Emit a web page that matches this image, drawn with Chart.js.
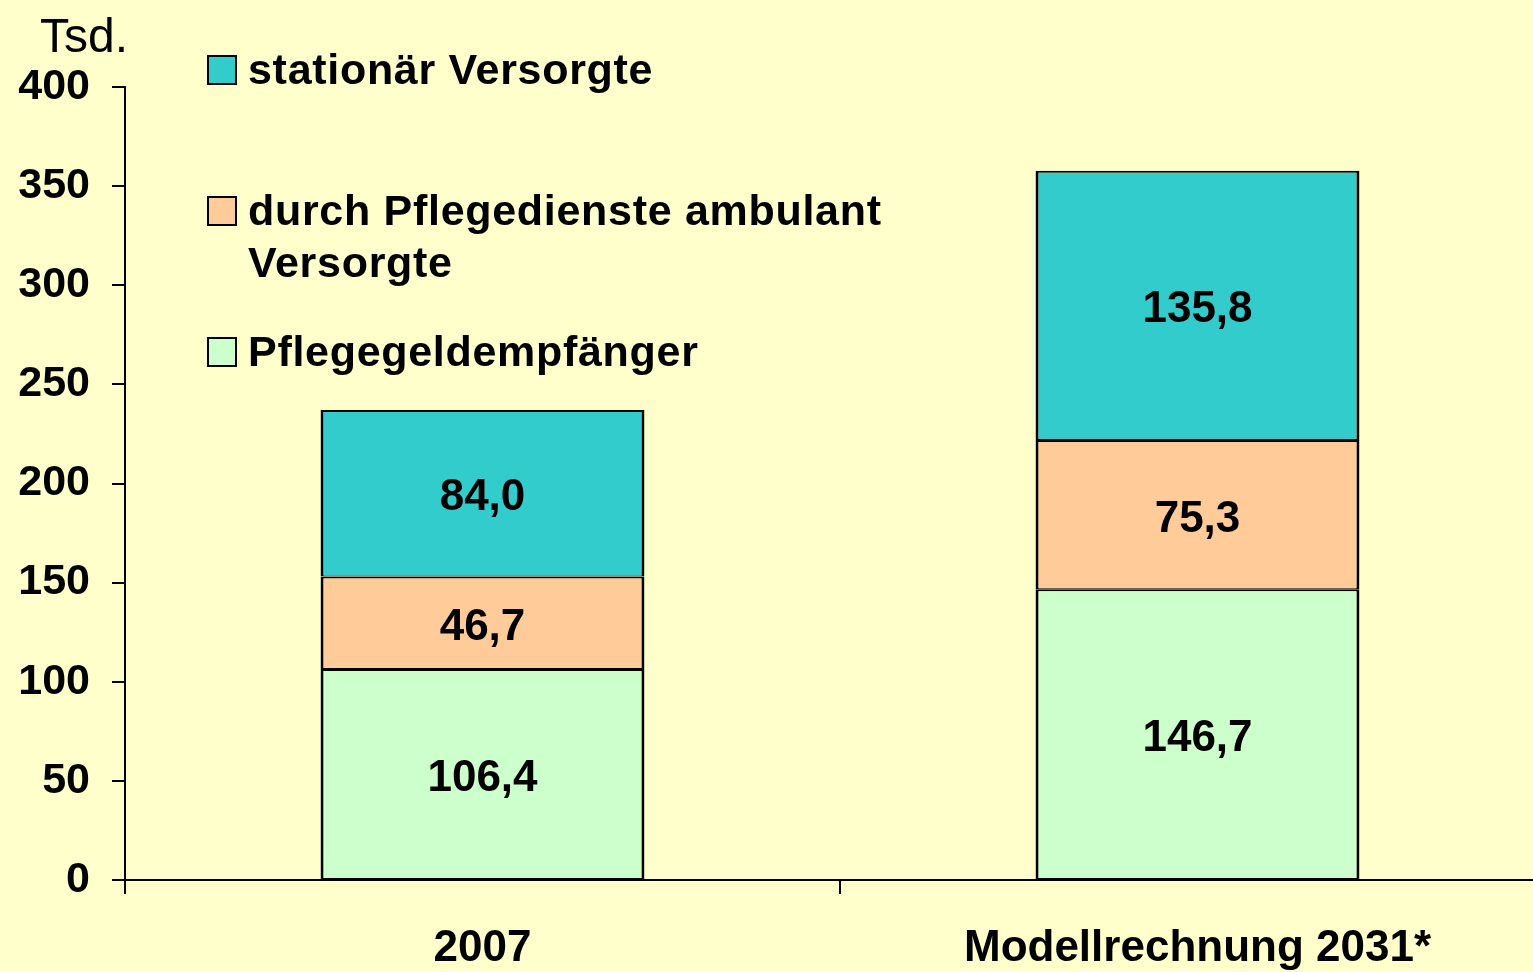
<!DOCTYPE html>
<html>
<head>
<meta charset="utf-8">
<script src="https://cdn.jsdelivr.net/npm/chart.js@4.4.0/dist/chart.umd.min.js"></script>
<style>
	html, body { margin: 0; padding: 0; overflow: hidden; background: #FFFFCC; }
	#wrap { width: 1560px; height: 972px; }
</style>
</head>
<body>
<div id="wrap"><canvas id="chart"></canvas></div>
<script>
// categories and series (Tsd.)
var categories = ['2007', 'Modellrechnung 2031*'];
var pflegegeld = [106.4, 146.7];
var ambulant = [46.7, 75.3];
var stationaer = [84.0, 135.8];

var seriesLabels = ['Pflegegeldempfänger', 'durch Pflegedienste ambulant Versorgte', 'stationär Versorgte'];
var seriesColors = ['#CCFFCC', '#FFCC99', '#33CCCC'];
var legendLines = [['Pflegegeldempfänger'], ['durch Pflegedienste ambulant', 'Versorgte'], ['stationär Versorgte']];

var yTicks = [0, 50, 100, 150, 200, 250, 300, 350, 400];

var FONT = "'Liberation Sans', Arial, sans-serif";
Chart.defaults.font.family = FONT;
Chart.defaults.color = '#000';

function fmt(v) {
	return v.toFixed(1).replace('.', ',');
}

var valueLabels = {
	id: 'valueLabels',
	afterDatasetsDraw: function(chart) {
		var ctx = chart.ctx;
		ctx.save();
		ctx.font = 'bold 44px ' + FONT;
		ctx.fillStyle = '#000';
		ctx.textAlign = 'center';
		ctx.textBaseline = 'middle';
		chart.data.datasets.forEach(function(ds, i) {
			var meta = chart.getDatasetMeta(i);
			meta.data.forEach(function(bar, j) {
				ctx.fillText(fmt(ds.data[j]), bar.x, (bar.y + bar.base) / 2 + 5);
			});
		});
		ctx.restore();
	}
};

var sideLegend = {
	id: 'sideLegend',
	afterDraw: function(chart) {
		var ctx = chart.ctx;
		ctx.save();
		// unit
		ctx.font = '48px ' + FONT;
		ctx.fillStyle = '#000';
		ctx.textBaseline = 'alphabetic';
		ctx.fillText('Tsd.', 40, 52);

		var order = [2, 1, 0];
		var tops = [56, 197, 338];
		order.forEach(function(i, k) {
			var top = tops[k];
			ctx.fillStyle = seriesColors[i];
			ctx.fillRect(208, top, 28, 28);
			ctx.lineWidth = 2;
			ctx.strokeStyle = '#000';
			ctx.strokeRect(208, top, 28, 28);
			ctx.fillStyle = '#000';
			ctx.font = 'bold 43px ' + FONT;
			ctx.letterSpacing = '0.7px';
			ctx.textBaseline = 'middle';
			legendLines[i].forEach(function(line, l) {
				ctx.fillText(line, 248, top + 16 + l * 52);
			});
			ctx.letterSpacing = '0px';
		});
		ctx.restore();
	}
};

function makeSet(idx, values) {
	return {
		label: seriesLabels[idx],
		data: values,
		backgroundColor: seriesColors[idx],
		borderColor: '#000',
		borderWidth: { top: 2, bottom: 1, left: 3, right: 3 },
		borderSkipped: false,
		inflateAmount: 0,
		barPercentage: 1,
		categoryPercentage: 0.453
	};
}

var ctx = document.getElementById('chart').getContext('2d');
var chart = new Chart(ctx, {
	type: 'bar',
	data: {
		labels: categories,
		datasets: [
			makeSet(0, pflegegeld),
			makeSet(1, ambulant),
			makeSet(2, stationaer)
		]
	},
	options: {
		responsive: true,
		maintainAspectRatio: false,
		animation: false,
		layout: { padding: { top: 87, right: 5, left: 0, bottom: 0 } },
		plugins: {
			legend: { display: false },
			tooltip: { enabled: false }
		},
		scales: {
			x: {
				stacked: true,
				grid: { display: true, drawOnChartArea: false, offset: true, tickLength: 14, color: '#000', lineWidth: 2 },
				border: { color: '#000', width: 2 },
				ticks: { font: { size: 44, weight: 'bold' }, color: '#000', padding: 28, maxRotation: 0, autoSkip: false },
				afterFit: function(s) { s.height = 92; }
			},
			y: {
				stacked: true,
				min: yTicks[0],
				max: yTicks[yTicks.length - 1],
				afterBuildTicks: function(s) { s.ticks = yTicks.map(function(v) { return { value: v }; }); },
				grid: { drawOnChartArea: false, tickLength: 13, color: '#000', lineWidth: 2 },
				border: { color: '#000', width: 2 },
				ticks: { font: { size: 43, weight: 'bold' }, color: '#000', padding: 22 },
				afterFit: function(s) { s.width = 125; }
			}
		}
	},
	plugins: [valueLabels, sideLegend]
});
</script>
</body>
</html>
